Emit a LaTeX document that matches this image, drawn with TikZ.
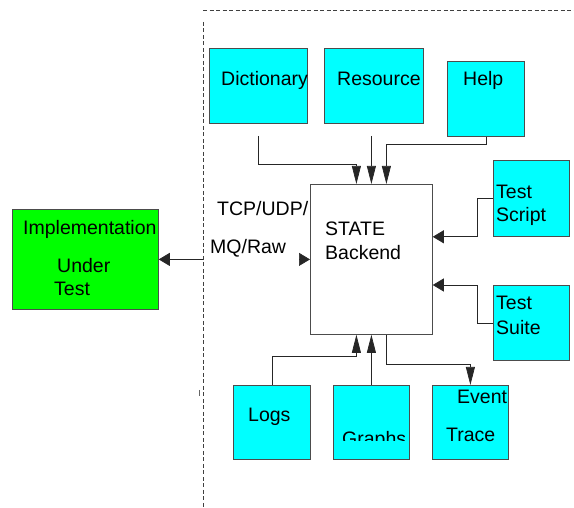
\documentclass[tikz,border=0pt]{standalone}
\usepackage{fontspec}
\setmainfont{Liberation Sans}
\usetikzlibrary{arrows.meta,calc}
\definecolor{aqua}{RGB}{0,255,255}
\definecolor{lime}{RGB}{0,255,0}

\begin{document}
\begin{tikzpicture}[x=1pt, y=-1pt,
  font=\fontsize{19.5}{23}\selectfont,
  blk/.style={draw=black!70, line width=0.8pt, inner sep=0pt, anchor=north west},
  tool/.style={blk, fill=aqua},
  txt/.style={anchor=base west, inner sep=0pt},
  wire/.style={draw=black!85, line width=0.7pt},
  vtip/.style={wire, -{Triangle[length=18pt,width=9pt]}},
  htip/.style={wire, -{Triangle[length=11pt,width=13pt]}},
  bound/.style={draw=black!75, line width=0.6pt, dash pattern=on 4pt off 2.5pt}]
  \useasboundingbox (0,0) rectangle (574,508);
  \coordinate (bnd) at (203,22);
  \coordinate (bnd-top) at (203,10);
  \draw[bound] (bnd-top) -- (574,10);
  \draw[bound] (bnd) -- (203,508);
  \draw[black!60, line width=1pt] (199,390) -- (199,396);

  \node[tool, minimum width=98pt, minimum height=75pt] (dict) at (209,48) {};
  \node[tool, minimum width=99pt, minimum height=75pt] (res) at (324,48) {};
  \node[tool, minimum width=77pt, minimum height=75pt] (help) at (447,61) {};
  \node[blk, fill=white, minimum width=122pt, minimum height=150pt] (state) at (310,184) {};
  \node[tool, minimum width=76pt, minimum height=76pt] (script) at (493,160) {};
  \node[tool, minimum width=76pt, minimum height=75pt] (suite) at (493,285) {};
  \node[tool, minimum width=77pt, minimum height=74pt] (logs) at (233,385) {};
  \node[tool, minimum width=76pt, minimum height=74pt] (graphs) at (333,385) {};
  \node[tool, minimum width=76pt, minimum height=74pt] (event) at (432,385) {};
  \node[blk, fill=lime, minimum width=146pt, minimum height=100pt] (iut) at (12,209) {};

  \node[txt] (dict-t) at (221,86) {Dictionary};
  \node[txt] (res-t) at (337,86) {Resource};
  \node[txt] (help-t) at (463,86) {Help};
  \node[txt] (state-t1) at (325,236) {STATE};
  \node[txt] (state-t2) at (325,260) {Backend};
  \node[txt] (proto-t1) at (217,216) {TCP/UDP/};
  \node[txt] (proto-t2) at (210,254) {MQ/Raw};
  \node[txt] (iut-t1) at (23,235) {Implementation};
  \node[txt] (iut-t2) at (57,273) {Under};
  \node[txt] (iut-t3) at (54,296) {Test};
  \node[txt] (script-t1) at (496,199) {Test};
  \node[txt] (script-t2) at (496,222) {Script};
  \node[txt] (suite-t1) at (496,309.5) {Test};
  \node[txt] (suite-t2) at (496,335) {Suite};
  \node[txt] (logs-t) at (248,421.5) {Logs};
  \node[txt] (event-t1) at (457,403) {Event};
  \node[txt] (event-t2) at (446,441) {Trace};
  \begin{scope}
    \clip (graphs.north west) rectangle (graphs.east |- 0,440);
    \node[txt] (graphs-t) at (342,446) {Graphs};
  \end{scope}

  \draw[vtip] ([yshift=-12pt]dict.south) |- ([xshift=-15pt,yshift=20pt]state.north) -- ([xshift=-15pt]state.north);
  \draw[vtip] ($(state.north |- res.south)+(0,12)$) -- (state.north);
  \draw[vtip] (help.south) -- ++(0,8) -| ([xshift=15pt]state.north);
  \draw[htip] (script.west) -- ++(-16,0) |- (state.east |- script.south);
  \draw[htip] (suite.west) -- ++(-16,0) |- (state.east |- suite.north);
  \draw[vtip] (logs.north) |- ([xshift=-15pt,yshift=-22pt]state.south) -- ([xshift=-15pt]state.south);
  \draw[vtip] (graphs.north) -- (graphs.north |- state.south);
  \draw[vtip] ([xshift=15pt]state.south) |- ([yshift=21pt]event.north) -- (event.north);
  \draw[htip] (bnd |- iut.east) -- (iut.east);
  \draw[htip] ([xshift=-11pt]state.west) -- (state.west);
\end{tikzpicture}
\end{document}
